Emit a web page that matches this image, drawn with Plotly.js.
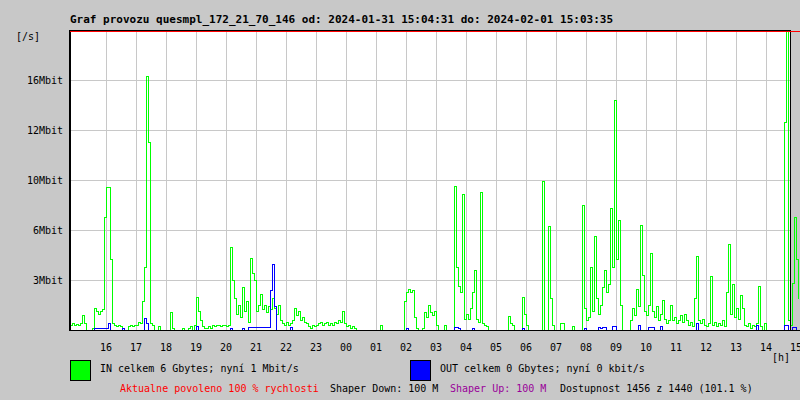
<!DOCTYPE html>
<html>
<head>
<meta charset="utf-8">
<script src="https://cdn.plot.ly/plotly-3.0.1.min.js"></script>
<style>
  html, body { margin: 0; padding: 0; background: #c8c8c8; }
  #chart { width: 800px; height: 400px; }
  #chart .scatterlayer path, #chart .gridlayer path, #chart .shapelayer path { shape-rendering: crispEdges; }
</style>
</head>
<body>
<div id="chart"></div>
<script>
// ---- time base: one sample every 4 minutes, starting 14:48 ----
const startHour = 14.8;
const stepMinutes = 4;

// ---- IN traffic (Mbit/s) ----
const in_1 = [
  0.3, 0.4, 0.3, 0.35, 0.3, 0.4, 0.9, 0.4, 0, 0,
  0, 0.1, 1.4, 1.2, 1.0, 1.2, 1.3, 7.2, 9.1, 9.1,
  4.5, 0.4, 0.3, 0.2, 0.3, 0.2, 0.1, 0, 0, 0.2,
  0.3, 0.2, 0.3, 0.3, 0.5, 0.4, 1.8, 4.0, 16.2, 12.0,
  0.4, 0.3, 0, 0, 0.2, 0, 0, 0, 0, 0,
  1.1, 0.1, 0, 0, 0, 0, 0.1, 0, 0, 0.1,
  0.2, 0, 0.3, 2.1, 1.2, 0.6, 0.2, 0.1, 0.1, 0.2,
  0.1, 0.3, 0.2, 0.3, 0.3, 0.2, 0.3, 0.3, 0.2, 0.3,
  5.3, 3.2, 2.0, 1.0, 1.6, 0.8, 2.7, 1.2, 1.8, 0.5
];
const in_2 = [
  4.6, 3.6, 3.2, 1.2, 1.6, 2.3, 1.3, 1.6, 1.1, 1.5,
  1.3, 2.0, 1.4, 1.0, 1.6, 0.6, 0.4, 0.3, 0.5, 0.3,
  0.4, 0.6, 1.4, 0.9, 1.2, 0.6, 0.8, 0.5, 0.4, 0.2,
  0.1, 0.3, 0.2, 0.3, 0.4, 0.5, 0.3, 0.4, 0.5, 0.3,
  0.4, 0.3, 0.5, 0.4, 0.6, 0.5, 1.2, 0.4, 0.2, 0.3,
  0.1, 0.2, 0.1, 0, 0, 0, 0, 0, 0, 0,
  0, 0, 0, 0, 0, 0.3, 0, 0, 0, 0,
  0, 0, 0, 0, 0, 0, 0, 1.8, 2.4, 2.6,
  2.4, 2.5, 0.8, 0.1, 0, 0, 0.1, 1.1, 0.8, 1.6
];
const in_3 = [
  1.1, 0.9, 1.2, 0.3, 0, 0, 0, 0.3, 0, 0,
  0, 0, 9.2, 4.0, 2.8, 2.4, 8.7, 0.7, 1.0, 0.7,
  1.4, 2.4, 3.8, 0.7, 0.5, 8.8, 0.4, 0.3, 0.2, 0,
  0, 0, 0, 0, 0, 0, 0, 0, 0, 0.85,
  0.4, 0.3, 0, 0, 0, 0, 2.1, 1.0, 0.3, 0,
  0, 0, 0, 0, 0, 0, 9.5, 0, 0, 6.6,
  2.0, 0.3, 0, 0, 0, 0.4, 0.4, 0, 0, 0,
  0, 0.2, 0, 0, 0, 0, 8.0, 1.4, 0.6, 0.8,
  4.0, 1.2, 6.0, 2.0, 1.0, 1.6, 2.7, 3.8, 2.4, 2.9
];
const in_4 = [
  7.8, 4.0, 14.7, 4.5, 7.0, 1.6, 0, 0, 0, 0,
  0.6, 1.4, 0.9, 2.6, 1.5, 6.7, 3.5, 1.2, 0.9, 1.6,
  4.9, 1.2, 0.8, 1.5, 0.6, 1.0, 1.9, 0.7, 0.4, 0.6,
  1.6, 0.6, 0.8, 0.4, 0.6, 0.9, 0.5, 1.0, 0.6, 0.3,
  0.5, 0.2, 2.0, 4.7, 0.6, 0.4, 0.7, 0.3, 0.2, 0.4,
  3.4, 0.3, 0.5, 0.2, 0.4, 0.3, 0.6, 0.2, 2.4, 5.5,
  1.0, 2.9, 0.8, 1.4, 0.7, 2.2, 1.4, 0.3, 0.2, 0.4,
  0.1, 0.3, 0.2, 0.4, 2.8, 0.2, 0, 0.4, 0, 0,
  0, 0, 0, 0, 0, 0, 0, 13.3, 19.8, 0.6,
  0.3, 3.0, 7.2, 4.5, 2.0
];

// ---- OUT traffic (Mbit/s) ----
const out_1 = [
  0, 0, 0, 0, 0, 0, 0, 0, 0, 0,
  0, 0, 0.1, 0.1, 0.1, 0.1, 0.1, 0.1, 0.1, 0.4,
  0, 0, 0, 0, 0, 0, 0.1, 0, 0, 0,
  0, 0, 0, 0, 0, 0, 0, 0.75, 0.4, 0,
  0, 0, 0, 0, 0, 0, 0, 0, 0, 0,
  0, 0, 0, 0, 0, 0, 0, 0, 0, 0,
  0, 0, 0, 0.2, 0, 0, 0, 0, 0, 0,
  0, 0, 0, 0, 0, 0, 0, 0, 0, 0,
  0.1, 0, 0, 0, 0, 0, 0.1, 0, 0, 0.15
];
const out_2 = [
  0.15, 0.15, 0.15, 0.15, 0.15, 0.15, 0.15, 0.15, 0.15, 0.15,
  2.5, 4.2, 1.5, 0, 0, 0, 0, 0, 0, 0,
  0.15, 0, 0, 0, 0, 0, 0, 0, 0, 0,
  0, 0, 0, 0, 0, 0, 0, 0, 0, 0,
  0, 0, 0, 0, 0, 0, 0, 0, 0, 0,
  0, 0, 0, 0, 0, 0, 0, 0, 0, 0,
  0, 0, 0, 0, 0, 0, 0, 0, 0, 0,
  0, 0, 0, 0, 0, 0, 0, 0, 0.1, 0,
  0, 0, 0, 0, 0, 0, 0, 0, 0, 0
];
const out_3 = [
  0, 0, 0, 0, 0, 0, 0, 0, 0, 0,
  0, 0, 0.15, 0.15, 0.1, 0, 0, 0, 0, 0,
  0, 0.1, 0, 0, 0, 0, 0, 0, 0, 0,
  0, 0, 0, 0, 0, 0, 0, 0, 0, 0,
  0, 0, 0, 0, 0, 0, 0.1, 0, 0, 0,
  0, 0, 0, 0, 0, 0, 0, 0, 0, 0,
  0, 0, 0, 0, 0, 0, 0, 0, 0, 0,
  0, 0, 0, 0, 0, 0, 0, 0.1, 0, 0,
  0, 0, 0, 0, 0.15, 0.1, 0.15, 0.15, 0, 0
];
const out_4 = [
  0, 0.2, 0.2, 0, 0, 0, 0, 0, 0, 0,
  0, 0, 0, 0, 0.3, 0, 0, 0, 0, 0.15,
  0.15, 0.15, 0, 0, 0, 0.2, 0, 0, 0, 0,
  0, 0, 0, 0, 0, 0, 0, 0, 0, 0,
  0, 0, 0, 0.4, 0, 0, 0, 0, 0, 0,
  0, 0, 0, 0, 0, 0, 0, 0, 0, 0,
  0, 0, 0, 0, 0, 0, 0, 0, 0, 0,
  0, 0, 0, 0.3, 0, 0, 0, 0, 0, 0,
  0, 0, 0, 0, 0, 0, 0, 0.3, 0.3, 0,
  0, 0.15, 0.15, 0, 0
];

// ---- axis ticks ----
const hourTicks = [16,17,18,19,20,21,22,23,24,25,26,27,28,29,30,31,32,33,34,35,36,37,38,39];
const hourLabels = ['16','17','18','19','20','21','22','23','00','01','02','03','04','05','06','07','08','09','10','11','12','13','14','15'];
const rateTicks = [3.2, 6.4, 9.6, 12.8, 16];
const rateLabels = ['3Mbit','6Mbit','10Mbit','12Mbit','16Mbit'];

// ---- texts ----
const titleText = 'Graf provozu quesmpl_172_21_70_146 od: 2024-01-31 15:04:31 do: 2024-02-01 15:03:35';
const inLegend = 'IN celkem 6 Gbytes; nyní 1 Mbit/s';
const outLegend = 'OUT celkem 0 Gbytes; nyní 0 kbit/s';
const statusParts = [
  {text: 'Aktualne povoleno 100 % rychlosti', color: '#ff0000'},
  {text: 'Shaper Down: 100 M', color: '#000000'},
  {text: 'Shaper Up: 100 M', color: '#990099'},
  {text: 'Dostupnost 1456 z 1440 (101.1 %)', color: '#000000'}
];

const inData = in_1.concat(in_2, in_3, in_4);
const outData = out_1.concat(out_2, out_3, out_4);
const times = inData.map((_, i) => startHour + i * stepMinutes / 60);

// ---- geometry (pixels) ----
const W = 800, H = 400;
const M = {l: 70, r: 0, t: 30, b: 70};
const xMax = startHour + (W - M.l - M.r) / 30;  // 30 px per hour
const frameEnd = 38.8;
const yMax = 19.2;
const px = x => (x - M.l) / (W - M.l - M.r);
const py = y => (H - M.b - y) / (H - M.t - M.b);

const FONT = 'DejaVu Sans Mono, Liberation Mono, monospace';

const traces = [
  {x: times, y: inData, type: 'scatter', mode: 'lines',
   line: {color: '#00ff00', width: 1, shape: 'hv'}, hoverinfo: 'skip'},
  {x: times, y: outData, type: 'scatter', mode: 'lines',
   line: {color: '#0000ff', width: 1, shape: 'hv'}, hoverinfo: 'skip'}
];

const statusX = [120, 330, 450, 560];
const annotations = [
  {text: '[/s]', xref: 'paper', yref: 'paper', x: px(14), y: py(37), xanchor: 'left', yanchor: 'middle', showarrow: false},
  {text: '[h]', xref: 'paper', yref: 'paper', x: px(770), y: py(357), xanchor: 'left', yanchor: 'middle', showarrow: false},
  {text: inLegend, xref: 'paper', yref: 'paper', x: px(98), y: py(368), xanchor: 'left', yanchor: 'middle', showarrow: false},
  {text: outLegend, xref: 'paper', yref: 'paper', x: px(438), y: py(368), xanchor: 'left', yanchor: 'middle', showarrow: false}
].concat(statusParts.map((p, i) => ({
  text: p.text, xref: 'paper', yref: 'paper', x: px(statusX[i] - 2), y: py(388),
  xanchor: 'left', yanchor: 'middle', showarrow: false, font: {color: p.color}
})));

const shapes = [
  {type: 'rect', xref: 'x', yref: 'y', x0: frameEnd, x1: xMax, y0: 0, y1: yMax,
   fillcolor: '#c8c8c8', line: {width: 0}, layer: 'below'},
  {type: 'rect', xref: 'x', yref: 'y', x0: startHour, x1: frameEnd, y0: 0, y1: yMax,
   fillcolor: 'rgba(0,0,0,0)', line: {color: '#000000', width: 1}, layer: 'above'},
  {type: 'line', xref: 'paper', yref: 'paper', x0: 0, x1: 1, y0: py(31.5), y1: py(31.5),
   line: {color: '#ff0000', width: 1}, layer: 'above'},
  {type: 'rect', xref: 'paper', yref: 'paper', x0: px(70.5), x1: px(90.5), y0: py(360.5), y1: py(380.5),
   fillcolor: '#00ff00', line: {color: '#000000', width: 1}},
  {type: 'rect', xref: 'paper', yref: 'paper', x0: px(410.5), x1: px(430.5), y0: py(360.5), y1: py(380.5),
   fillcolor: '#0000ff', line: {color: '#000000', width: 1}}
];

const layout = {
  width: W, height: H,
  margin: M,
  paper_bgcolor: '#c8c8c8',
  plot_bgcolor: '#ffffff',
  showlegend: false,
  font: {family: FONT, size: 10, color: '#000000'},
  title: {
    text: '<b>' + titleText + '</b>',
    font: {family: FONT, size: 11, color: '#000000'},
    xref: 'container', yref: 'container',
    x: 70 / W, xanchor: 'left', y: 1 - 19 / H, yanchor: 'middle'
  },
  xaxis: {
    range: [startHour, xMax], tickmode: 'array', tickvals: hourTicks, ticktext: hourLabels,
    showgrid: true, gridcolor: '#c8c8c8', gridwidth: 1, zeroline: false,
    showline: true, linecolor: '#000000', linewidth: 1, ticks: '',
    ticklabelstandoff: 8, ticklabeloverflow: 'allow', fixedrange: true
  },
  yaxis: {
    range: [0, yMax], tickmode: 'array', tickvals: rateTicks, ticktext: rateLabels,
    showgrid: true, gridcolor: '#c8c8c8', gridwidth: 1, zeroline: false,
    showline: true, linecolor: '#000000', linewidth: 1, ticks: '',
    ticklabelstandoff: 4, fixedrange: true
  },
  shapes: shapes,
  annotations: annotations
};

Plotly.newPlot('chart', traces, layout, {staticPlot: true, displayModeBar: false});
</script>
</body>
</html>
